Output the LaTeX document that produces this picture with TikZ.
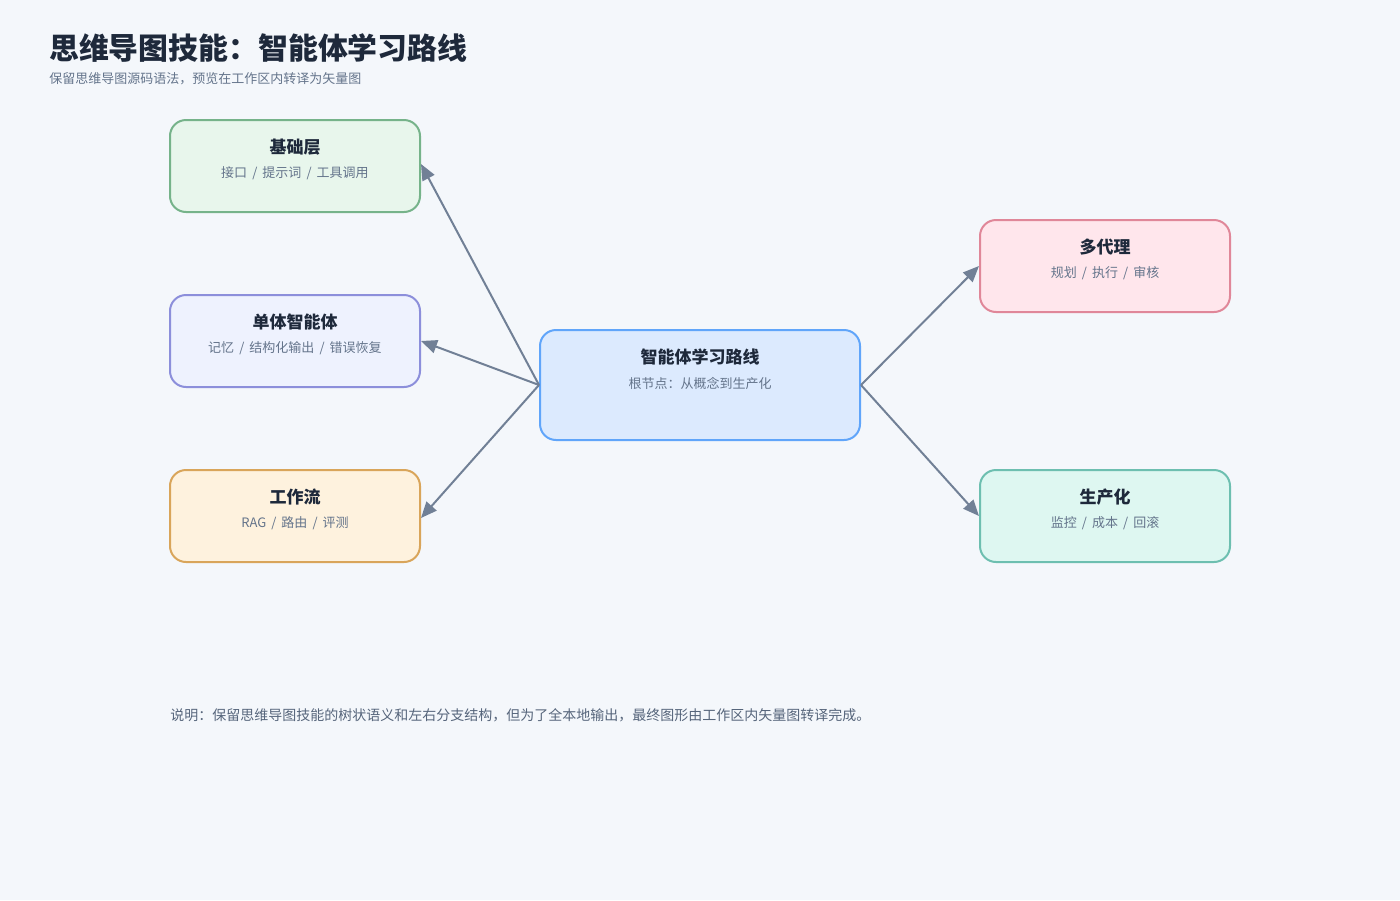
\documentclass[tikz,border=0pt]{standalone}
\usepackage{fontspec}
\setmainfont{Noto Sans CJK SC}
\usetikzlibrary{arrows.meta}
\definecolor{bgcol}{HTML}{F4F7FB}
\definecolor{inkcol}{HTML}{1E293B}
\definecolor{mutedcol}{HTML}{64748B}
\definecolor{linkcol}{HTML}{718096}
\newcommand{\sep}{\ \,/\,\ }
\tikzset{
  card/.style={draw, line width=1.5pt, rounded corners=12pt, minimum width=187.5pt, minimum height=69pt},
  rootcard/.style={card, minimum width=240pt, minimum height=82.5pt},
  head/.style={font=\fontsize{12.75pt}{15pt}\selectfont\bfseries, text=inkcol},
  sub/.style={font=\fontsize{9.75pt}{12pt}\selectfont, text=mutedcol},
  link/.style={draw=linkcol, line width=1.5pt, -{Triangle[length=12pt, width=10pt]}}
}
\begin{document}
\begin{tikzpicture}[x=0.75pt, y=-0.75pt]
  \path[fill=bgcol] (0,0) rectangle (1400,900);
  % heading
  \node[anchor=west, font=\fontsize{22.4pt}{26pt}\selectfont\bfseries, text=inkcol, inner sep=0pt] (title) at (49,48) {思维导图技能：智能体学习路线};
  \node[anchor=west, sub, inner sep=0pt] (subtitle) at (49,79) {保留思维导图源码语法，预览在工作区内转译为矢量图};
  % root
  \node[rootcard, draw={rgb,255:red,96;green,165;blue,250}, fill={rgb,255:red,220;green,234;blue,254}] (root) at (700,385) {};
  \node[head] (roothead) at (700,357) {智能体学习路线};
  \node[sub] (rootsub) at (700,383) {根节点：从概念到生产化};
  % left branches
  \node[card, draw={rgb,255:red,118;green,179;blue,138}, fill={rgb,255:red,232;green,246;blue,236}] (base) at (295,166) {};
  \node[head] (basehead) at (295,147) {基础层};
  \node[sub] (basesub) at (295,173) {接口\sep 提示词\sep 工具调用};
  \node[card, draw={rgb,255:red,140;green,143;blue,219}, fill={rgb,255:red,238;green,242;blue,254}] (single) at (295,341) {};
  \node[head] (singlehead) at (295,322) {单体智能体};
  \node[sub] (singlesub) at (295,348) {记忆\sep 结构化输出\sep 错误恢复};
  \node[card, draw={rgb,255:red,217;green,165;blue,90}, fill={rgb,255:red,254;green,242;blue,222}] (flow) at (295,516) {};
  \node[head] (flowhead) at (295,497) {工作流};
  \node[sub] (flowsub) at (295,523) {RAG\sep 路由\sep 评测};
  % right branches
  \node[card, draw={rgb,255:red,224;green,135;blue,153}, fill={rgb,255:red,255;green,230;blue,236}] (multi) at (1105,266) {};
  \node[head] (multihead) at (1105,247) {多代理};
  \node[sub] (multisub) at (1105,273) {规划\sep 执行\sep 审核};
  \node[card, draw={rgb,255:red,109;green,191;blue,176}, fill={rgb,255:red,222;green,247;blue,241}] (prod) at (1105,516) {};
  \node[head] (prodhead) at (1105,497) {生产化};
  \node[sub] (prodsub) at (1105,523) {监控\sep 成本\sep 回滚};
  % links
  \draw[link] (root.west) -- ([yshift=1.5pt]base.east);
  \draw[link] (root.west) -- (single.east);
  \draw[link] (root.west) -- ([yshift=-1.5pt]flow.east);
  \draw[link] (root.east) -- (multi.west);
  \draw[link] (root.east) -- (prod.west);
  % note
  \node[anchor=west, inner sep=0pt, font=\fontsize{10.5pt}{13pt}\selectfont, text=mutedcol!80!inkcol] (note) at (170,715) {说明：保留思维导图技能的树状语义和左右分支结构，但为了全本地输出，最终图形由工作区内矢量图转译完成。};
\end{tikzpicture}
\end{document}
